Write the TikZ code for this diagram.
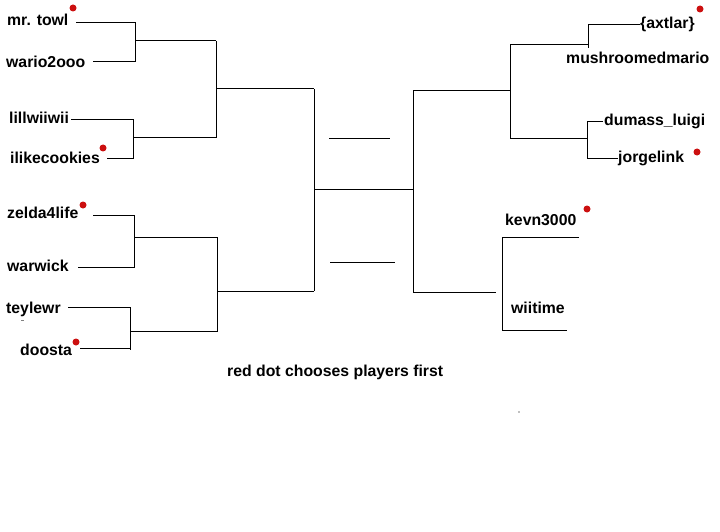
\documentclass[tikz,border=0pt]{standalone}
\usepackage{fontspec}
\setmainfont{Liberation Sans}
\definecolor{dotred}{RGB}{204,16,16}
\tikzset{
  player/.style={anchor=base west,inner sep=0pt,font=\fontsize{15.8}{18}\selectfont\bfseries},
  wire/.style={line width=1pt,black},
  reddot/.style={circle,fill=dotred,inner sep=0pt,minimum size=7pt}
}
\begin{document}
\begin{tikzpicture}[x=1pt,y=-1pt]
\useasboundingbox[fill=white] (0,0) rectangle (720,532);
% players, left
\node[player] (p1) at (7,26) {mr. towl};
\node[player] (p2) at (6,68) {wario2ooo};
\node[player] (p3) at (9,124) {lillwiiwii};
\node[player] (p4) at (10,164) {ilikecookies};
\node[player] (p5) at (7,218) {zelda4life};
\node[player] (p6) at (7,271) {warwick};
\node[player] (p7) at (6,313) {teylewr};
\node[player] (p8) at (20,355) {doosta};
% players, right
\node[player] (p9) at (640,29) {\{axtlar\}};
\node[player] (p10) at (566,64) {mushroomedmario};
\node[player] (p11) at (604,125) {dumass\_luigi};
\node[player] (p12) at (618,163) {jorgelink};
\node[player] (p13) at (505,225) {kevn3000};
\node[player] (p14) at (511,313) {wiitime};
\node[player] (note) at (227,376) {red dot chooses players first};
% red dots
\node[reddot] (d1) at (73,8) {};
\node[reddot] (d2) at (103,148) {};
\node[reddot] (d3) at (83,205) {};
\node[reddot] (d4) at (76,342) {};
\node[reddot] (d5) at (700,9) {};
\node[reddot] (d6) at (697,152) {};
\node[reddot] (d7) at (587,209) {};
% junction coordinates
\coordinate (a1) at (76,23);  \coordinate (a2) at (93,62);
\coordinate (b1) at (135,23); \coordinate (b2) at (135,62); \coordinate (bm) at (135,41);
\coordinate (a3) at (71,120); \coordinate (a4) at (107,158);
\coordinate (c1) at (133,120); \coordinate (c2) at (133,158); \coordinate (cm) at (133,138);
\coordinate (e1) at (216,41); \coordinate (e2) at (216,138); \coordinate (em) at (216,89);
\coordinate (a5) at (93,215); \coordinate (a6) at (78,267);
\coordinate (f1) at (134,215); \coordinate (f2) at (134,267); \coordinate (fm) at (134,237);
\coordinate (a7) at (68,307); \coordinate (a8) at (80,348);
\coordinate (g1) at (130,307); \coordinate (g2) at (130,350); \coordinate (g8) at (130,348); \coordinate (gm) at (130,331);
\coordinate (h1) at (217,237); \coordinate (h2) at (217,332); \coordinate (hm) at (217,291);
\coordinate (k1) at (314,89); \coordinate (k2) at (314,291); \coordinate (km) at (314,189);
\coordinate (m1) at (413,91); \coordinate (m2) at (413,292); \coordinate (mm) at (413,189);
\coordinate (s1a) at (329,139); \coordinate (s1b) at (390,139);
\coordinate (s2a) at (330,262); \coordinate (s2b) at (395,262);
\coordinate (n1) at (510,91); \coordinate (n0) at (510,45); \coordinate (n2) at (510,139);
\coordinate (q0) at (588,25); \coordinate (qm) at (588,45); \coordinate (qb) at (588,48); \coordinate (q1) at (640,25);
\coordinate (r0) at (587,122); \coordinate (rm) at (587,139); \coordinate (rb) at (587,158);
\coordinate (r1) at (603,122); \coordinate (r2) at (618,158);
\coordinate (t0) at (496,292);
\coordinate (u1) at (502,237); \coordinate (u2) at (579,237);
\coordinate (u3) at (502,330); \coordinate (u4) at (567,330);
% wires, left
\draw[wire] (a1) -- (b1) -- (b2) -- (a2);
\draw[wire] (bm) -- (e1);
\draw[wire] (a3) -- (c1) -- (c2) -- (a4);
\draw[wire] (cm) -- (e2);
\draw[wire] (e1) -- (e2);
\draw[wire] (em) -- (k1);
\draw[wire] (a5) -- (f1) -- (f2) -- (a6);
\draw[wire] (fm) -- (h1);
\draw[wire] (a7) -- (g1) -- (g2);
\draw[wire] (a8) -- (g8);
\draw[wire] (gm) -- (gm -| h1);
\draw[wire] (h1) -- (h2);
\draw[wire] (hm) -- (k2);
\draw[wire] (k1) -- (k2);
\draw[wire] (km) -- (mm);
\draw[wire] (s1a) -- (s1b);
\draw[wire] (s2a) -- (s2b);
% wires, right
\draw[wire] (m1) -- (m2);
\draw[wire] (m1) -- (n1);
\draw[wire] (m2) -- (t0);
\draw[wire] (n0) -- (n2);
\draw[wire] (n0) -- (qm);
\draw[wire] (qb) -- (q0) -- (q1);
\draw[wire] (n2) -- (rm);
\draw[wire] (r1) -- (r0) -- (rb) -- (r2);
\draw[wire] (u2) -- (u1) -- (u3) -- (u4);
% stray marks
\draw[line width=1pt,gray] (21,320) -- (24,320);
\fill[gray] (519,412) circle (0.8);
\end{tikzpicture}
\end{document}
